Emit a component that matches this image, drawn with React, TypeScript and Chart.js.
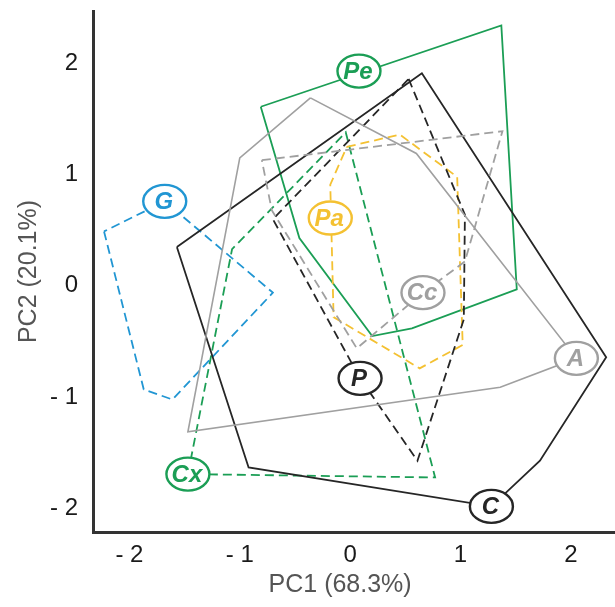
import React, { useEffect, useRef } from 'react';
import { Chart, registerables } from 'chart.js';

Chart.register(...registerables);

// ---- data ----
const X_TICKS = [-2, -1, 0, 1, 2];
const Y_TICKS = [-2, -1, 0, 1, 2];
const X_RANGE = [-2.33, 2.4];
const Y_RANGE = [-2.23, 2.45];
const X_TITLE = 'PC1 (68.3%)';
const Y_TITLE = 'PC2 (20.1%)';

// convex hull vertices [PC1, PC2] per group
const HULL_PE = [[-0.81, 1.59], [1.37, 2.32], [1.51, -0.05], [0.56, -0.4], [0.2, -0.47], [-0.46, 0.41]];
const HULL_A = [[-0.36, 1.67], [0.6, 1.17], [2.05, -0.67], [1.36, -0.93], [-1.47, -1.33], [-1.0, 1.13]];
const HULL_C = [[-1.57, 0.33], [0.65, 1.89], [2.32, -0.66], [1.72, -1.59], [1.28, -2.0], [-0.92, -1.65]];
const HULL_P = [[0.53, 1.84], [1.04, 0.62], [1.03, -0.32], [0.61, -1.59], [0.09, -0.85], [-0.7, 0.58]];
const HULL_CC = [[-0.8, 1.11], [1.38, 1.37], [1.04, 0.2], [0.66, -0.08], [0.06, -0.58], [-0.71, 0.66]];
const HULL_PA = [[-0.03, 1.23], [0.45, 1.34], [0.97, 0.96], [1.02, -0.55], [0.63, -0.76], [-0.15, -0.3], [-0.18, 0.89]];
const HULL_G = [[-2.23, 0.47], [-1.87, -0.95], [-1.61, -1.04], [-0.7, -0.08], [-1.68, 0.74]];
const HULL_CX = [[-1.47, -1.71], [-1.07, 0.31], [-0.04, 1.36], [0.77, -1.74]];

const GROUP_NAMES = ['Pe', 'G', 'Pa', 'Cc', 'A', 'P', 'Cx', 'C'];
const LABEL_X = [0.08, -1.68, -0.18, 0.66, 2.05, 0.09, -1.47, 1.28];
const LABEL_Y = [1.91, 0.74, 0.59, -0.08, -0.67, -0.85, -1.71, -2.0];

// ---- styles ----
const GREEN = '#1b9e55';
const BLUE = '#2196d3';
const YELLOW = '#f4c132';
const GRAY = '#a0a0a0';
const BLACK = '#262626';
const DASH = [9, 5];
const FONT = '"Liberation Sans", Arial, Helvetica, sans-serif';

const LABEL_COLORS: Record<string, string> = {
  Pe: GREEN, G: BLUE, Pa: YELLOW, Cc: GRAY, A: GRAY, P: BLACK, Cx: GREEN, C: BLACK,
};

const SERIES = [
  { name: 'A', hull: HULL_A, color: GRAY, dashed: false, width: 1.6 },
  { name: 'Cc', hull: HULL_CC, color: GRAY, dashed: true, width: 1.8 },
  { name: 'C', hull: HULL_C, color: BLACK, dashed: false, width: 1.8 },
  { name: 'P', hull: HULL_P, color: BLACK, dashed: true, width: 1.8 },
  { name: 'G', hull: HULL_G, color: BLUE, dashed: true, width: 1.8 },
  { name: 'Pa', hull: HULL_PA, color: YELLOW, dashed: true, width: 1.8 },
  { name: 'Cx', hull: HULL_CX, color: GREEN, dashed: true, width: 1.8 },
  { name: 'Pe', hull: HULL_PE, color: GREEN, dashed: false, width: 1.8 },
];

const fmtTick = (v: number) => (v < 0 ? '- ' + Math.abs(v) : String(v));

const labelPlugin = {
  id: 'hullLabels',
  afterDatasetsDraw(chart: any) {
    const { ctx, scales } = chart;
    const xs = scales.x;
    const ys = scales.y;
    ctx.save();
    GROUP_NAMES.forEach((name, i) => {
      const px = xs.getPixelForValue(LABEL_X[i]);
      const py = ys.getPixelForValue(LABEL_Y[i]);
      const color = LABEL_COLORS[name];
      ctx.beginPath();
      ctx.ellipse(px, py, 21.5, 16.5, 0, 0, Math.PI * 2);
      ctx.fillStyle = '#ffffff';
      ctx.fill();
      ctx.lineWidth = 2.4;
      ctx.strokeStyle = color;
      ctx.stroke();
      ctx.font = 'italic bold 24px ' + FONT;
      ctx.fillStyle = color;
      ctx.textAlign = 'center';
      ctx.textBaseline = 'middle';
      ctx.fillText(name, px - 1, py + 1);
    });
    ctx.restore();
  },
};

export default function App() {
  const ref = useRef<HTMLCanvasElement | null>(null);

  useEffect(() => {
    document.body.style.margin = '0';
    const canvas = ref.current;
    if (!canvas) return;
    const datasets = SERIES.map((s) => ({
      label: s.name,
      data: [...s.hull, s.hull[0]].map(([x, y]) => ({ x, y })),
      showLine: true,
      borderColor: s.color,
      backgroundColor: s.color,
      borderWidth: s.width,
      borderDash: s.dashed ? DASH : [],
      pointRadius: 0,
      pointHoverRadius: 0,
      fill: false,
      tension: 0,
    }));

    const chart = new Chart(canvas, {
      type: 'scatter',
      data: { datasets },
      plugins: [labelPlugin],
      options: {
        animation: false,
        responsive: false,
        devicePixelRatio: 1,
        layout: { padding: { top: 11, right: 0, left: 0, bottom: 0 } },
        plugins: { legend: { display: false }, tooltip: { enabled: false } },
        scales: {
          x: {
            type: 'linear',
            min: X_RANGE[0],
            max: X_RANGE[1],
            afterBuildTicks: (scale: any) => {
              scale.ticks = X_TICKS.map((v) => ({ value: v }));
            },
            afterFit: (scale: any) => {
              scale.height = 75;
              scale.paddingLeft = 0;
              scale.paddingRight = 0;
              scale.paddingTop = 0;
              scale.paddingBottom = 0;
            },
            grid: { display: false, drawTicks: false },
            border: { display: true, color: '#333333', width: 3 },
            ticks: {
              padding: 9,
              color: '#1a1a1a',
              font: { family: FONT, size: 24 },
              callback: (v: any) => fmtTick(Number(v)),
              maxRotation: 0,
              autoSkip: false,
            },
            title: {
              display: true,
              text: X_TITLE + '    ',
              color: '#555555',
              font: { family: FONT, size: 25 },
              padding: { top: 0, bottom: 7 },
            },
          },
          y: {
            type: 'linear',
            min: Y_RANGE[0],
            max: Y_RANGE[1],
            afterBuildTicks: (scale: any) => {
              scale.ticks = Y_TICKS.map((v) => ({ value: v }));
            },
            afterFit: (scale: any) => {
              scale.width = 93;
              scale.paddingLeft = 0;
              scale.paddingRight = 0;
              scale.paddingTop = 0;
              scale.paddingBottom = 0;
            },
            grid: { display: false, drawTicks: false },
            border: { display: true, color: '#333333', width: 3 },
            ticks: {
              padding: 15,
              labelOffset: 2,
              color: '#1a1a1a',
              font: { family: FONT, size: 24 },
              callback: (v: any) => fmtTick(Number(v)),
              autoSkip: false,
            },
            title: {
              display: true,
              text: Y_TITLE,
              color: '#555555',
              font: { family: FONT, size: 25 },
              padding: { top: 14, bottom: 0 },
            },
          },
        },
      } as any,
    });
    return () => chart.destroy();
  }, []);

  return (
    <div style={{ width: 615, height: 607 }}>
      <canvas ref={ref} width={615} height={607} style={{ display: 'block' }} />
    </div>
  );
}
